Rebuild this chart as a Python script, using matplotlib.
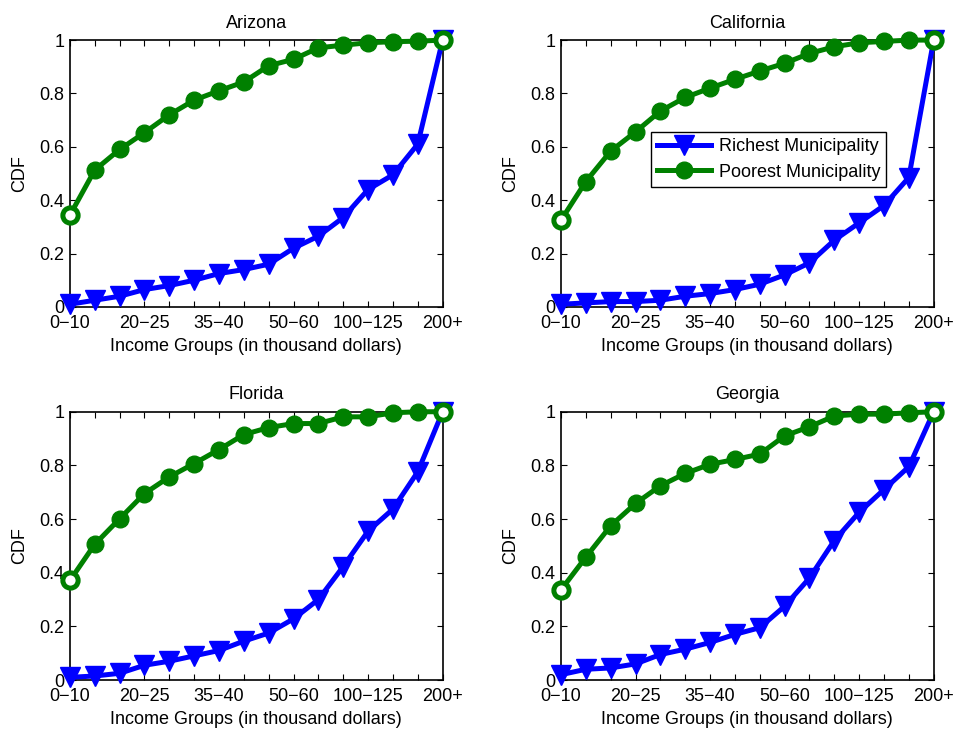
import numpy as np
import matplotlib
matplotlib.use('Agg')
from matplotlib import pyplot as plt

plt.rcParams['font.family'] = ['Liberation Sans', 'DejaVu Sans']

groups = ['0\u221210', '10\u221215', '15\u221220', '20\u221225', '25\u221230', '30\u221235',
          '35\u221240', '40\u221245', '45\u221250', '50\u221260', '60\u221275', '75\u2212100',
          '100\u2212125', '125\u2212150', '150\u2212200', '200+']
shown = [0, 3, 6, 9, 12, 15]

states = ['Arizona', 'California', 'Florida', 'Georgia']

# richest municipality CDF per state
rich_az = [0.01, 0.025, 0.04, 0.065, 0.08, 0.10, 0.125, 0.14, 0.16, 0.22, 0.265, 0.335, 0.44, 0.495, 0.61, 1.0]
rich_ca = [0.01, 0.015, 0.02, 0.02, 0.025, 0.04, 0.05, 0.065, 0.085, 0.12, 0.165, 0.25, 0.315, 0.38, 0.485, 1.0]
rich_fl = [0.01, 0.015, 0.025, 0.055, 0.07, 0.09, 0.11, 0.145, 0.175, 0.228, 0.30, 0.423, 0.555, 0.637, 0.776, 1.0]
rich_ga = [0.02, 0.04, 0.045, 0.06, 0.095, 0.115, 0.14, 0.17, 0.195, 0.275, 0.38, 0.52, 0.625, 0.71, 0.795, 1.0]

# poorest municipality CDF per state
poor_az = [0.344, 0.513, 0.59, 0.653, 0.72, 0.775, 0.81, 0.843, 0.904, 0.928, 0.971, 0.981, 0.99, 0.994, 0.996, 1.0]
poor_ca = [0.325, 0.47, 0.584, 0.656, 0.734, 0.785, 0.82, 0.853, 0.884, 0.913, 0.95, 0.975, 0.99, 0.995, 1.0, 1.0]
poor_fl = [0.371, 0.506, 0.601, 0.695, 0.757, 0.807, 0.859, 0.915, 0.941, 0.956, 0.956, 0.981, 0.981, 0.996, 1.0, 1.0]
poor_ga = [0.336, 0.458, 0.575, 0.658, 0.724, 0.77, 0.804, 0.822, 0.842, 0.91, 0.944, 0.984, 0.991, 0.991, 0.996, 1.0]

rich = [rich_az, rich_ca, rich_fl, rich_ga]
poor = [poor_az, poor_ca, poor_fl, poor_ga]

fig = plt.figure(figsize=(9.58, 7.29), dpi=100)
boxes = [[0.073, 0.579, 0.389, 0.366], [0.5856, 0.579, 0.389, 0.366],
         [0.073, 0.0672, 0.389, 0.368], [0.5856, 0.0672, 0.389, 0.368]]

blue = (0, 0, 1)
green = (0, 0.5, 0)
x = np.arange(len(groups))
fs = 13

for i in range(4):
    ax = fig.add_axes(boxes[i])
    ax.plot(x, rich[i], '-v', color=blue, lw=3.6, ms=14, clip_on=False, zorder=3,
            label='Richest Municipality')
    ax.plot(x, poor[i], '-o', color=green, lw=3.6, ms=12, clip_on=False, zorder=4,
            label='Poorest Municipality')
    # end markers come out hollow in the original
    ends = [0, len(x) - 1]
    ax.plot(x[ends], np.array(poor[i])[ends], 'o', color=green, mfc='white', mew=3.6,
            ms=11, clip_on=False, zorder=5)
    ax.set_xlim(0, len(x) - 1)
    ax.set_ylim(0, 1)
    ax.set_xticks(x)
    ax.set_xticklabels([groups[k] if k in shown else '' for k in x])
    ax.set_yticks([0, 0.2, 0.4, 0.6, 0.8, 1])
    ax.set_yticklabels(['0', '0.2', '0.4', '0.6', '0.8', '1'])
    ax.tick_params(direction='in', top=True, right=True, labelsize=fs, length=4)
    ax.tick_params(axis='x', pad=6)
    ax.tick_params(axis='y', pad=4)
    ax.set_title(states[i], fontsize=fs, pad=9)
    ax.set_ylabel('CDF', fontsize=fs, labelpad=8)
    ax.set_xlabel('Income Groups (in thousand dollars)', fontsize=fs, labelpad=4)
    for s in ax.spines.values():
        s.set_linewidth(1.2)
    if i == 1:
        ax.legend(loc='upper left', bbox_to_anchor=(0.241, 0.655), fontsize=fs,
                  handlelength=3.0, fancybox=False, edgecolor='black', framealpha=1,
                  borderpad=0.35, labelspacing=0.45, borderaxespad=0, handletextpad=0.4)

fig.savefig('out.png', dpi=100)
